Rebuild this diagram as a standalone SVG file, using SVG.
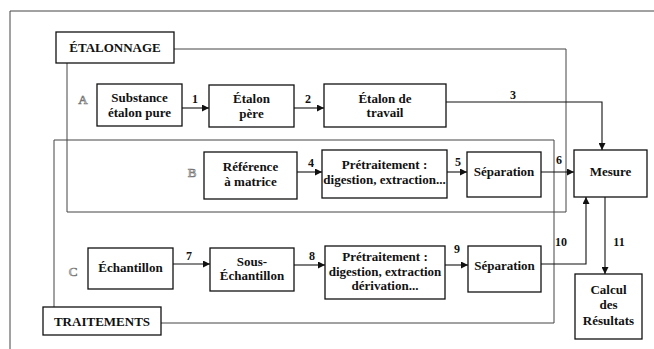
<svg xmlns="http://www.w3.org/2000/svg" width="654" height="349" viewBox="0 0 654 349">
<defs>
<marker id="ah" viewBox="0 0 10 10" refX="10" refY="5" markerWidth="8" markerHeight="7" markerUnits="userSpaceOnUse" orient="auto">
<path d="M0,0 L10,5 L0,10 z" fill="#111"/>
</marker>
</defs>
<style>
.bx{fill:#fff;stroke:#111;stroke-width:1.3}
.fr{fill:none;stroke:#444;stroke-width:1}
text{font-family:"Liberation Serif","DejaVu Serif",serif}
.t{font-weight:bold;font-size:13px;fill:#111;text-anchor:middle}
.n{font-weight:bold;font-size:12px;fill:#111;text-anchor:middle}
.lt{font-size:13px;fill:#fff;stroke:#777;stroke-width:0.7;text-anchor:middle}
.c{fill:none;stroke:#111;stroke-width:1.1}
</style>
<rect width="654" height="349" fill="#fff"/>
<g id="frame">
<path class="fr" d="M654,11 H10 V349"/>
</g>
<g id="etalonnage">
<path class="fr" d="M174,49 H566 V212 H67 V63"/>
<rect class="bx" x="56" y="32" width="118" height="31"/>
<text class="t" x="115" y="52">ÉTALONNAGE</text>
</g>
<g id="traitements">
<path class="fr" d="M54,308 V140 H554 V323 H161"/>
<rect class="bx" x="43" y="307" width="118" height="28"/>
<text class="t" x="102" y="326">TRAITEMENTS</text>
</g>
<g id="labels">
<text class="lt" x="83" y="104">A</text>
<text class="lt" x="192" y="177">B</text>
<text class="lt" x="73" y="276">C</text>
</g>
<g id="connectors">
<path class="c" d="M182,108 H209" marker-end="url(#ah)"/>
<path class="c" d="M294,108 H324" marker-end="url(#ah)"/>
<path class="c" d="M446,102 H602 V150" marker-end="url(#ah)"/>
<path class="c" d="M297,172 H322" marker-end="url(#ah)"/>
<path class="c" d="M447,172 H467" marker-end="url(#ah)"/>
<path class="c" d="M541,172 H574" marker-end="url(#ah)"/>
<path class="c" d="M173,264 H210" marker-end="url(#ah)"/>
<path class="c" d="M294,265 H325" marker-end="url(#ah)"/>
<path class="c" d="M445,265 H468" marker-end="url(#ah)"/>
<path class="c" d="M541,264 H586 V197" marker-end="url(#ah)"/>
<path class="c" d="M605,197 V274" marker-end="url(#ah)"/>
<text class="n" x="195" y="103">1</text>
<text class="n" x="308" y="103">2</text>
<text class="n" x="513" y="99">3</text>
<text class="n" x="311" y="167">4</text>
<text class="n" x="458" y="166">5</text>
<text class="n" x="559" y="164">6</text>
<text class="n" x="189" y="260">7</text>
<text class="n" x="312" y="260">8</text>
<text class="n" x="457" y="253">9</text>
<text class="n" x="561" y="246">10</text>
<text class="n" x="619" y="246">11</text>
</g>
<g id="substance">
<rect class="bx" x="97" y="84" width="85" height="42"/>
<text class="t" x="139.5" y="102">Substance</text>
<text class="t" x="139.5" y="117">étalon pure</text>
</g>
<g id="etalon-pere">
<rect class="bx" x="209" y="85" width="85" height="42"/>
<text class="t" x="251.5" y="103">Étalon</text>
<text class="t" x="251.5" y="118">père</text>
</g>
<g id="etalon-travail">
<rect class="bx" x="324" y="84" width="122" height="43"/>
<text class="t" x="385" y="103">Étalon de</text>
<text class="t" x="385" y="117">travail</text>
</g>
<g id="reference">
<rect class="bx" x="204" y="152" width="93" height="47"/>
<text class="t" x="250.5" y="171">Référence</text>
<text class="t" x="250.5" y="186">à matrice</text>
</g>
<g id="pretraitement-b">
<rect class="bx" x="322" y="150" width="125" height="48"/>
<text class="t" x="384.5" y="169">Prétraitement :</text>
<text class="t" x="384.5" y="184">digestion, extraction...</text>
</g>
<g id="separation-b">
<rect class="bx" x="467" y="152" width="74" height="45"/>
<text class="t" x="504" y="176">Séparation</text>
</g>
<g id="mesure">
<rect class="bx" x="574" y="150" width="73" height="47"/>
<text class="t" x="610.5" y="176">Mesure</text>
</g>
<g id="echantillon">
<rect class="bx" x="88" y="248" width="85" height="41"/>
<text class="t" x="130.5" y="272">Échantillon</text>
</g>
<g id="sous-echantillon">
<rect class="bx" x="210" y="248" width="84" height="43"/>
<text class="t" x="252" y="266">Sous-</text>
<text class="t" x="252" y="280">Échantillon</text>
</g>
<g id="pretraitement-c">
<rect class="bx" x="325" y="246" width="120" height="53"/>
<text class="t" x="385" y="261">Prétraitement :</text>
<text class="t" x="385" y="276">digestion, extraction</text>
<text class="t" x="385" y="290">dérivation...</text>
</g>
<g id="separation-c">
<rect class="bx" x="468" y="246" width="73" height="46"/>
<text class="t" x="504.5" y="270">Séparation</text>
</g>
<g id="calcul">
<rect class="bx" x="575" y="274" width="67" height="65"/>
<text class="t" x="608.5" y="294">Calcul</text>
<text class="t" x="608.5" y="309">des</text>
<text class="t" x="608.5" y="325">Résultats</text>
</g>
</svg>
